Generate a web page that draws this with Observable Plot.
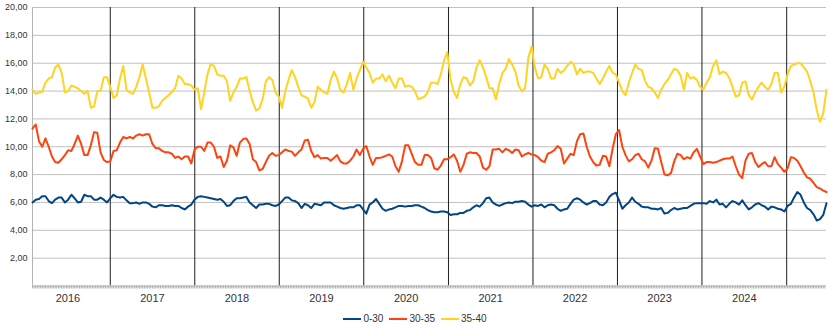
<!DOCTYPE html>
<html><head><meta charset="utf-8">
<script src="https://cdn.jsdelivr.net/npm/d3@7"></script>
<script src="https://cdn.jsdelivr.net/npm/@observablehq/plot@0.6"></script>
<style>
body{margin:0;background:#fff;font-family:"Liberation Sans",Arial,sans-serif;}
#legend{display:flex;justify-content:center;align-items:center;gap:6px;font-size:10px;color:#333;height:21px;margin-left:0px;}
.item{display:flex;align-items:center;gap:2px;}
</style></head><body>
<div id="chart"></div>
<div id="legend"></div>
<script>
// ---- data (one value every 14 days, starting at startDate) ----
const startDate = "2016-01-31";
const stepDays = 14;
const seriesNames = ["0-30", "30-35", "35-40"];
const seriesColors = ["#004586", "#ff420e", "#ffd320"];

const values0_30 = [
6.0,6.2,6.25,6.45,6.45,6.1,5.95,6.2,6.35,6.35,
6.0,6.2,6.55,6.3,6.0,6.05,6.55,6.45,6.45,6.2,
6.2,6.35,6.2,6.0,6.3,6.55,6.4,6.35,6.4,6.15,
5.95,5.95,6.0,5.9,6.0,6.0,5.9,5.7,5.65,5.8,
5.8,5.75,5.75,5.8,5.75,5.75,5.6,5.5,5.7,5.85,
6.2,6.4,6.45,6.4,6.35,6.3,6.25,6.2,6.25,6.05,
5.75,5.8,6.1,6.3,6.3,6.35,6.4,6.0,5.8,5.6,
5.85,5.85,5.9,5.9,5.8,5.75,5.85,6.1,6.35,6.35,
6.15,
6.1,5.95,5.6,5.9,5.8,5.6,5.9,5.85,5.8,6.0,
6.0,6.0,5.8,5.7,5.6,5.55,5.6,5.65,5.65,5.8,
5.8,5.5,5.2,5.85,6.0,6.25,5.9,5.55,5.4,5.5,
5.55,5.65,5.75,5.75,5.7,5.75,5.75,5.8,5.8,5.7,
5.6,
5.45,5.35,5.3,5.3,5.35,5.35,5.3,5.1,5.15,5.15,
5.25,5.25,5.4,5.45,5.65,5.8,5.7,5.95,6.3,6.35,
6.0,5.85,5.75,5.85,5.95,6.0,5.95,6.05,6.05,6.1,
6.05,5.85,5.7,5.8,5.75,5.85,5.65,5.8,5.85,5.8,
5.55,
5.4,5.5,5.55,5.9,6.2,6.3,6.2,6.0,5.85,5.95,
6.1,6.1,5.85,5.8,6.0,6.4,6.6,6.7,6.15,5.55,
5.8,6.0,6.35,6.05,5.9,5.7,5.65,5.65,5.55,5.55,
5.5,5.6,5.2,5.25,5.45,5.6,5.5,5.55,5.6,5.6,
5.75,
5.9,5.95,5.95,5.95,5.9,6.1,6.0,6.2,5.85,5.9,
5.65,5.9,6.1,6.0,5.85,6.15,5.8,5.5,5.65,5.85,
5.95,5.8,5.7,5.5,5.7,5.65,5.55,5.5,5.35,5.75,
5.9,6.35,6.75,6.55,6.0,5.6,5.45,5.15,4.7,4.8,
5.1,5.95];

const values30_35 = [
11.3,11.6,10.4,10.0,10.6,10.0,9.3,8.9,8.85,9.1,
9.4,9.75,9.7,10.2,10.8,10.2,9.4,9.4,10.1,11.05,
11.0,9.6,9.05,8.9,8.95,9.7,9.75,10.3,10.7,10.6,
10.7,10.6,10.8,10.9,10.8,10.9,10.9,10.2,9.9,9.9,
9.7,9.6,9.6,9.5,9.2,9.3,9.1,9.3,9.3,8.8,
9.8,10.0,10.0,9.7,10.3,10.3,10.0,9.2,9.3,8.55,
9.0,10.1,9.95,9.35,10.3,10.55,10.6,10.2,9.1,8.9,
8.3,8.4,8.9,9.35,9.55,9.35,9.4,9.6,9.8,9.7,
9.65,
9.35,9.6,9.8,10.45,10.5,9.7,9.25,9.4,9.15,9.2,
9.2,9.0,9.2,9.4,8.95,8.8,8.8,9.0,9.3,9.8,
9.4,9.85,10.05,9.3,8.7,9.2,9.2,9.25,9.35,9.45,
9.3,8.6,8.2,8.95,10.1,10.1,9.5,8.9,8.7,8.7,
9.4,
9.4,9.2,8.45,8.35,8.65,9.1,9.1,9.25,9.45,9.0,
8.2,8.7,9.5,9.6,9.55,9.55,9.3,8.5,8.35,8.6,
9.8,9.8,9.85,9.6,9.85,9.75,9.55,9.8,9.75,9.3,
9.45,9.55,9.45,9.4,9.25,9.0,8.9,9.5,9.6,9.75,
10.05,
9.85,8.8,9.15,9.5,9.4,10.4,10.9,10.95,10.0,9.3,
8.9,8.65,8.7,9.35,9.3,8.6,9.85,10.9,11.2,10.0,
9.4,8.95,9.1,9.4,9.5,9.1,8.95,8.5,9.0,9.9,
9.85,8.9,8.0,7.95,8.1,8.95,9.5,9.4,9.1,9.25,
9.15,
9.6,9.85,9.3,8.75,8.9,8.9,8.85,8.9,9.0,9.1,
9.15,9.15,9.3,8.6,8.0,7.75,9.0,9.5,9.55,8.9,
8.55,8.75,8.9,8.6,8.6,9.25,8.75,8.5,8.2,8.45,
9.25,9.2,9.0,8.6,8.15,7.8,7.7,7.4,7.1,7.0,
6.85,6.75];

const values35_40 = [
14.1,13.8,13.9,13.95,14.6,14.9,15.0,15.7,15.9,15.3,
13.9,14.0,14.4,14.3,14.2,14.0,13.8,14.0,12.8,12.9,
14.0,14.0,15.0,15.0,14.3,13.5,13.7,14.9,15.8,14.1,
13.9,13.8,14.3,15.0,15.9,14.9,13.9,12.8,12.8,12.9,
13.3,13.5,13.7,13.95,14.2,15.1,14.9,14.5,14.5,14.4,
14.1,14.2,12.7,13.9,15.2,15.95,15.8,15.2,15.1,15.1,
14.7,13.3,13.9,14.3,14.9,14.9,15.0,14.0,13.2,12.6,
12.75,13.4,14.7,15.0,14.8,13.9,13.6,12.8,14.0,14.8,
15.5,
15.0,14.3,13.7,13.6,13.45,12.8,13.2,14.3,14.1,13.9,
13.8,14.8,15.4,14.9,14.05,13.9,14.5,15.3,14.1,14.9,
15.5,16.1,15.7,15.3,14.6,14.9,14.9,15.2,14.7,15.1,
14.6,14.2,14.9,14.9,14.3,14.4,14.3,14.0,13.4,13.5,
13.6,
13.95,14.6,14.6,14.5,15.2,16.2,16.8,14.8,13.95,13.5,
14.5,15.0,14.9,14.4,14.7,15.7,16.2,15.7,15.0,14.2,
14.2,13.4,14.5,15.3,15.6,16.3,15.9,15.4,14.4,13.98,
14.2,16.4,17.2,15.7,14.9,15.0,15.9,15.6,14.9,14.9,
15.6,
15.3,15.5,15.8,16.1,15.9,15.2,15.6,15.3,15.4,15.4,
15.3,14.9,14.5,14.9,15.4,15.8,15.3,15.2,14.6,14.0,
13.7,14.6,15.3,15.9,15.6,15.5,14.75,14.3,14.2,13.9,
13.5,14.1,14.5,14.8,15.2,15.6,15.5,15.1,14.1,15.3,
14.9,
15.0,14.8,14.3,14.1,14.6,15.0,15.8,16.2,15.2,15.4,
15.3,14.95,14.3,13.6,13.7,14.6,14.7,13.7,13.4,13.9,
14.3,14.6,14.3,14.1,14.5,15.3,15.3,13.9,14.3,15.2,
15.8,15.9,16.0,16.0,15.7,15.4,14.7,13.9,12.6,11.8,
12.4,14.1];

const yTicks = [2, 4, 6, 8, 10, 12, 14, 16, 18, 20];
const yearLabels = [2016, 2017, 2018, 2019, 2020, 2021, 2022, 2023, 2024];
const yearBoundaries = [2017, 2018, 2019, 2020, 2021, 2022, 2023, 2024, 2025];

// ---- build table ----
const start = new Date(startDate + "T00:00:00Z");
const allSeries = [values0_30, values30_35, values35_40];
const rows = [];
allSeries.forEach((arr, k) => arr.forEach((v, i) => rows.push({
  date: d3.utcDay.offset(start, stepDays * i), value: v, series: seriesNames[k]
})));
const end = d3.utcDay.offset(start, stepDays * (values0_30.length - 1));
const weekTicks = d3.utcWeek.range(start, end);
const labelTicks = yearLabels.map(y => new Date(Date.UTC(y, 6, 2)));
const boundaryDates = yearBoundaries.map(y => new Date(Date.UTC(y, 0, 1)));

const chart = Plot.plot({
  width: 830,
  height: 308,
  marginLeft: 32,
  marginRight: 4,
  marginTop: 7,
  marginBottom: 22.5,
  style: {fontFamily: "'Liberation Sans', Arial, sans-serif", fontSize: "10px", color: "#333", background: "#fff"},
  x: {type: "utc", domain: [start, end], label: null},
  y: {domain: [0, 20], label: null},
  color: {domain: seriesNames, range: seriesColors},
  marks: [
    Plot.ruleY(yTicks, {stroke: "#c0c0c0", strokeWidth: 1}),
    Plot.ruleX(boundaryDates, {stroke: "#1e1e1e", strokeWidth: 1}),
    Plot.ruleX([start], {stroke: "#b3b3b3", strokeWidth: 1}),
    Plot.ruleY([0], {stroke: "#b3b3b3", strokeWidth: 1}),
    Plot.axisY({ticks: yTicks, tickSize: 0, tickPadding: 5, fontSize: 9, label: null,
      tickFormat: d => d.toFixed(2).replace(".", ",")}),
    Plot.axisX({ticks: weekTicks, tickSize: 3, tickFormat: () => "", stroke: "#b0b0b0", label: null}),
    Plot.axisX({ticks: labelTicks, tickSize: 0, tickPadding: 8, fontSize: 11, label: null,
      tickFormat: d3.utcFormat("%Y")}),
    Plot.line(rows, {x: "date", y: "value", stroke: "series", z: "series", strokeWidth: 2, strokeLinejoin: "round"})
  ]
});
document.getElementById("chart").appendChild(chart);

// ---- legend ----
const legend = document.getElementById("legend");
seriesNames.forEach((name, k) => {
  const item = document.createElement("span");
  item.className = "item";
  item.innerHTML = `<svg width="18" height="6"><line x1="0" x2="18" y1="3" y2="3" stroke="${seriesColors[k]}" stroke-width="2"/></svg><span>${name}</span>`;
  legend.appendChild(item);
});
</script>
</body></html>
